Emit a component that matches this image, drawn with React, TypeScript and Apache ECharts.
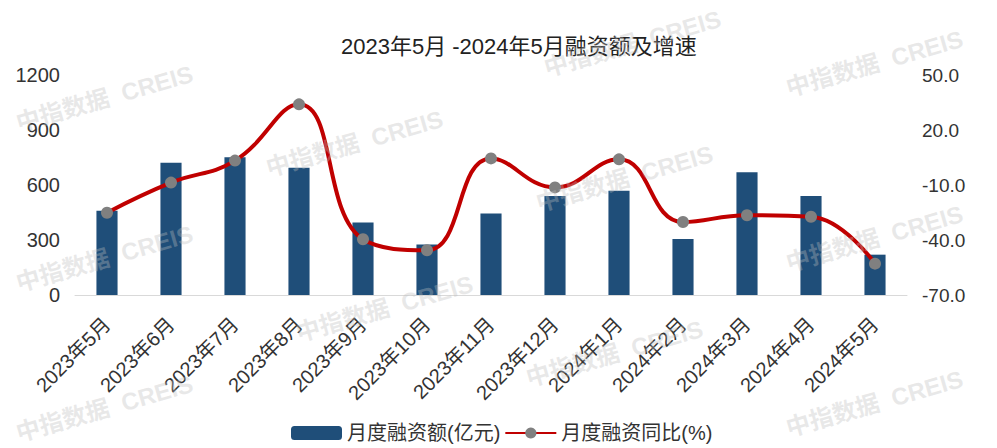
import React, { useEffect, useRef } from "react";
import * as echarts from "echarts";

const categories = [
  "2023年5月", "2023年6月", "2023年7月", "2023年8月", "2023年9月", "2023年10月",
  "2023年11月", "2023年12月", "2024年1月", "2024年2月", "2024年3月", "2024年4月", "2024年5月",
];
const amountValues = [460, 722, 751, 694, 395, 276, 445, 540, 569, 305, 669, 540, 220];
const yoyValues = [-25.1, -8.7, 3.3, 34.0, -39.6, -45.6, 4.5, -11.3, 4.0, -30.2, -26.5, -27.3, -52.9];
const leftTicks = { min: 0, max: 1200, interval: 300 };
const rightTicks = { min: -70, max: 50, interval: 30 };
const watermarks = [
  [20, 135], [270, 180], [540, 215], [790, 100], [20, 295], [300, 345],
  [530, 390], [790, 275], [790, 440], [20, 445], [548, 80],
];

const FONT = "'Liberation Sans', 'Noto Sans CJK SC', sans-serif";

export default function App() {
  const ref = useRef<HTMLDivElement>(null);
  useEffect(() => {
    document.body.style.margin = "0";
    const chart = echarts.init(ref.current!, null, { renderer: "svg" });
    chart.setOption({
      animation: false,
      textStyle: { fontFamily: FONT },
      title: {
        text: "2023年5月 -2024年5月融资额及增速",
        left: 336,
        top: 30,
        textStyle: { fontSize: 22, fontWeight: "normal", color: "#222", fontFamily: FONT },
      },
      grid: { left: 75, right: 90, top: 75, bottom: 153 },
      legend: {
        left: 286,
        top: 418,
        itemWidth: 51,
        itemHeight: 14,
        itemGap: 4,
        textStyle: { fontSize: 20, color: "#333", fontFamily: FONT },
        data: ["月度融资额(亿元)", "月度融资同比(%)"],
      },
      xAxis: {
        type: "category",
        data: categories,
        axisLine: { lineStyle: { color: "#d9d9d9", width: 1 } },
        axisTick: { show: false },
        axisLabel: { rotate: 45, fontSize: 20, color: "#333", margin: 26, interval: 0, fontFamily: FONT },
      },
      yAxis: [
        {
          type: "value",
          ...leftTicks,
          splitLine: { show: false },
          axisLine: { show: false },
          axisTick: { show: false },
          axisLabel: {
            fontSize: 20,
            color: "#333",
            margin: 15,
            fontFamily: FONT,
            formatter: (v: number) => String(v),
          },
        },
        {
          type: "value",
          ...rightTicks,
          splitLine: { show: false },
          axisLine: { show: false },
          axisTick: { show: false },
          axisLabel: {
            fontSize: 19,
            color: "#333",
            margin: 15,
            fontFamily: FONT,
            formatter: (v: number) => v.toFixed(1),
          },
        },
      ],
      series: [
        {
          name: "月度融资额(亿元)",
          type: "bar",
          data: amountValues,
          barWidth: "33%",
          itemStyle: { color: "#1F4E79" },
        },
        {
          name: "月度融资同比(%)",
          type: "line",
          yAxisIndex: 1,
          data: yoyValues,
          smooth: 0.45,
          symbol: "circle",
          symbolSize: 12,
          lineStyle: { color: "#C00000", width: 4 },
          itemStyle: { color: "#808080" },
        },
      ],
      graphic: watermarks.map(([x, y]) => ({
        type: "text",
        x,
        y,
        rotation: (16 * Math.PI) / 180,
        z: 100,
        silent: true,
        style: {
          text: "中指数据  CREIS",
          fontSize: 24,
          fontWeight: "bold",
          fontFamily: FONT,
          fill: "rgba(190,190,190,0.35)",
          textVerticalAlign: "bottom",
        },
      })),
    });
    return () => chart.dispose();
  }, []);
  return <div ref={ref} style={{ width: 997, height: 448 }} />;
}
